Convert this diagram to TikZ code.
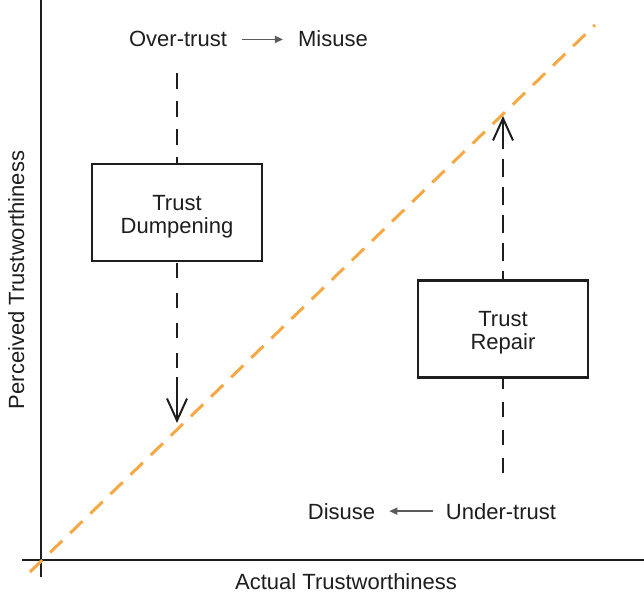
\documentclass[tikz,border=0pt]{standalone}
\usepackage{fontspec}
\setmainfont{Liberation Sans}
\usetikzlibrary{arrows.meta}
\definecolor{orng}{RGB}{246,168,68}
\definecolor{arrgray}{RGB}{90,90,90}
\definecolor{ink}{RGB}{30,30,30}
\newcommand{\boxstrut}{\rule{0pt}{23pt}}
\begin{document}
\begin{tikzpicture}[x=1pt,y=-1pt,
  lbl/.style={font=\fontsize{22}{24}\selectfont, inner sep=0pt, text=ink},
  box/.style={draw=ink, line width=2.4pt, minimum width=170pt, minimum height=97pt,
    align=center, inner sep=0pt, text=ink, font=\fontsize{22}{23}\selectfont},
  axis/.style={line width=2pt, draw=ink},
  dsh/.style={line width=2pt, draw=ink, dash pattern=on 16pt off 12pt},
  bigtip/.style={-{Straight Barb[length=22pt,width=20pt]}, line width=2pt, draw=ink},
  smallarr/.style={-{Triangle[length=8pt,width=7pt]}, line width=1.5pt, draw=arrgray},
  diag/.style={line width=3pt, draw=orng, dash pattern=on 17pt off 11pt}]
\useasboundingbox[fill=white] (0,0) rectangle (644,593);
% axes
\coordinate (yTop) at (41,0);
\coordinate (yBot) at (41,577);
\coordinate (xL) at (22,560);
\coordinate (xR) at (644,560);
\draw[axis] (yTop) -- (yBot);
\draw[axis] (xL) -- (xR);
% diagonal
\coordinate (dgA) at (30,572);
\coordinate (dgB) at (595,25);
\draw[diag] (dgA) -- (dgB);
% axis labels
\node[lbl, anchor=base] (xlab) at (346,589) {Actual Trustworthiness};
\node[lbl, anchor=base, rotate=90] (ylab) at (24,280) {Perceived Trustworthiness};
% boxes
\node[box] (dump) at (177,212.5) {\boxstrut Trust\\Dumpening};
\node[box] (rep) at (503,329) {\boxstrut Trust\\Repair};
% top texts
\node[lbl, anchor=base] (over) at (178,47) {Over-trust};
\node[lbl, anchor=base] (misuse) at (333,47) {Misuse};
\node[lbl, anchor=base] (disuse) at (341.5,519) {Disuse};
\node[lbl, anchor=base] (under) at (501,519) {Under-trust};
\draw[smallarr, shorten <=15pt, shorten >=15pt] (over.east) -- (over.east -| misuse.west);
\draw[smallarr, shorten <=13pt, shorten >=14pt] (under.west) -- (under.west -| disuse.east);
% dumpening connectors
\coordinate (dTop) at (177,73);
\coordinate (dA) at (177,377);
\coordinate (dTip) at (177,423);
\draw[dsh] (dTop) -- (dump.north);
\draw[dsh, dash pattern=on 15pt off 15pt, dash phase=-1pt] (dump.south) -- (dA);
\draw[bigtip] (dA) -- (dTip);
% repair connectors
\coordinate (rBot) at (503,473);
\coordinate (rA) at (503,145);
\coordinate (rTip) at (503,116);
\draw[dsh, dash pattern=on 15pt off 13pt] (rBot) -- (rep.south);
\draw[dsh, dash pattern=on 18pt off 10pt, dash phase=10pt] (rep.north) -- (rA);
\draw[bigtip] (rA) -- (rTip);
\end{tikzpicture}
\end{document}
